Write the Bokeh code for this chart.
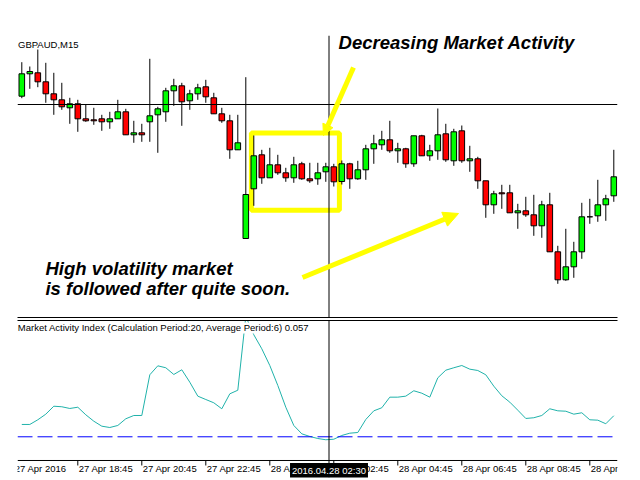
import numpy as np
import pandas as pd
from bokeh.plotting import figure
from bokeh.layouts import column, row
from bokeh.models import (Range1d, LinearAxis, FixedTicker, Span, Label, LabelSet,
                          ColumnDataSource, BoxAnnotation, Arrow, NormalHead, Spacer,
                          CustomJSTickFormatter)
from bokeh.core.properties import value
from bokeh.embed import file_html
from bokeh.resources import INLINE

# ---------------- data ----------------
symbol = "GBPAUD,M15"
start_time = "2016-04-27 17:00"

opens = [1.92043, 1.92267, 1.92277, 1.92187, 1.92067, 1.92007, 1.91927, 1.91967, 1.91817, 1.91807,
         1.91817, 1.91787, 1.91817, 1.91887, 1.91657, 1.91677, 1.91787, 1.91857, 1.91887, 1.92097,
         1.92147, 1.91997, 1.92067, 1.92137, 1.92027, 1.91867, 1.91797, 1.91507, 1.90620, 1.91117,
         1.91457, 1.91227, 1.91357, 1.91277, 1.91227, 1.91367, 1.91217, 1.91217, 1.91287, 1.91337,
         1.91190, 1.91367, 1.91217, 1.91307, 1.91517, 1.91557, 1.91607, 1.91497, 1.91517, 1.91367,
         1.91647, 1.91447, 1.91497, 1.91667, 1.91397, 1.91697, 1.91397, 1.91417, 1.91197, 1.90957,
         1.91077, 1.91077, 1.90877, 1.90897, 1.90857, 1.90747, 1.90957, 1.90487, 1.90207, 1.90337,
         1.90487, 1.90837, 1.90847, 1.90957, 1.91047]
highs = [1.92383, 1.92340, 1.92510, 1.92377, 1.92277, 1.92177, 1.92027, 1.92007, 1.91957, 1.91927,
         1.91857, 1.91887, 1.92007, 1.91917, 1.91797, 1.91767, 1.92417, 1.91937, 1.92127, 1.92217,
         1.92177, 1.92107, 1.92167, 1.92207, 1.92077, 1.91927, 1.91857, 1.91857, 1.92233, 1.91650,
         1.91507, 1.91527, 1.91457, 1.91327, 1.91437, 1.91387, 1.91377, 1.91377, 1.91377, 1.91367,
         1.91400, 1.91377, 1.91397, 1.91557, 1.91657, 1.91697, 1.91797, 1.91577, 1.91527, 1.91647,
         1.91657, 1.91557, 1.91920, 1.91767, 1.91717, 1.91750, 1.91547, 1.91437, 1.91197, 1.91097,
         1.91157, 1.91157, 1.90967, 1.91037, 1.91057, 1.90997, 1.91077, 1.90547, 1.90717, 1.90587,
         1.90977, 1.91017, 1.91207, 1.91057, 1.91507]
lows = [1.92023, 1.92117, 1.92133, 1.91977, 1.91857, 1.91907, 1.91767, 1.91687, 1.91787, 1.91757,
        1.91697, 1.91717, 1.91817, 1.91657, 1.91577, 1.91587, 1.91587, 1.91477, 1.91787, 1.91947,
        1.91747, 1.91907, 1.92007, 1.91977, 1.91867, 1.91777, 1.91417, 1.91507, 1.90620, 1.90947,
        1.91167, 1.91227, 1.91257, 1.91187, 1.91177, 1.91207, 1.91177, 1.91157, 1.91187, 1.91140,
        1.91160, 1.91117, 1.91207, 1.91207, 1.91367, 1.91507, 1.91477, 1.91377, 1.91327, 1.91337,
        1.91447, 1.91397, 1.91407, 1.91387, 1.91347, 1.91377, 1.91287, 1.91117, 1.90827, 1.90867,
        1.90917, 1.90877, 1.90717, 1.90837, 1.90647, 1.90627, 1.90487, 1.90167, 1.90197, 1.90227,
        1.90417, 1.90767, 1.90787, 1.90797, 1.90987]
closes = [1.92267, 1.92290, 1.92187, 1.92067, 1.92007, 1.91937, 1.91967, 1.91817, 1.91797, 1.91797,
          1.91787, 1.91817, 1.91887, 1.91657, 1.91677, 1.91657, 1.91847, 1.91917, 1.92097, 1.92147,
          1.91987, 1.92067, 1.92127, 1.92037, 1.91867, 1.91797, 1.91507, 1.91577, 1.91060, 1.91447,
          1.91227, 1.91357, 1.91277, 1.91227, 1.91357, 1.91217, 1.91197, 1.91277, 1.91337, 1.91187,
          1.91367, 1.91217, 1.91307, 1.91517, 1.91567, 1.91607, 1.91497, 1.91517, 1.91367, 1.91647,
          1.91447, 1.91497, 1.91657, 1.91407, 1.91687, 1.91397, 1.91417, 1.91197, 1.90957, 1.91067,
          1.91067, 1.90877, 1.90897, 1.90857, 1.90747, 1.90957, 1.90487, 1.90207, 1.90337, 1.90487,
          1.90837, 1.90837, 1.90957, 1.91017, 1.91237]

# Market Activity Index values
mai = [0.0458, 0.0458, 0.0518, 0.0590, 0.0692, 0.0685, 0.0663, 0.0679, 0.0582, 0.0500,
       0.0436, 0.0419, 0.0445, 0.0531, 0.0573, 0.0573, 0.1095, 0.1210, 0.1185, 0.1099,
       0.1159, 0.1000, 0.0821, 0.0778, 0.0736, 0.0659, 0.0851, 0.0897, 0.1842, 0.1608,
       0.1428, 0.1214, 0.0958, 0.0679, 0.0445, 0.0338, 0.0304, 0.0278, 0.0262, 0.0269,
       0.0317, 0.0346, 0.0355, 0.0522, 0.0633, 0.0672, 0.0808, 0.0808, 0.0821, 0.0890,
       0.0859, 0.0808, 0.1056, 0.1154, 0.1185, 0.1214, 0.1167, 0.1150, 0.1095, 0.0949,
       0.0826, 0.0744, 0.0641, 0.0535, 0.0544, 0.0573, 0.0659, 0.0633, 0.0628, 0.0590,
       0.0608, 0.0518, 0.0513, 0.0467, 0.0570]
mai_level = 0.03
mai_title = "Market Activity Index (Calculation Period:20, Average Period:6) 0.057"

tick_times = ["2016-04-27 16:45", "2016-04-27 18:45", "2016-04-27 20:45", "2016-04-27 22:45",
              "2016-04-28 00:45", "2016-04-28 02:45", "2016-04-28 04:45", "2016-04-28 06:45",
              "2016-04-28 08:45", "2016-04-28 10:45"]
tick_labels = ["27 Apr 2016", "27 Apr 18:45", "27 Apr 20:45", "27 Apr 22:45", "28 Apr 00:45",
               "28 Apr 02:45", "28 Apr 04:45", "28 Apr 06:45", "28 Apr 08:45", "28 Apr 10:45"]

cursor_time = "2016-04-28 02:36"
cursor_label = "2016.04.28 02:30"
cursor_price = 1.91960

note_top = "Decreasing Market Activity"
note_bottom = ["High volatility market", "is followed after quite soon."]

# ---------------- derived ----------------
bar = pd.Timedelta("15min")
times = pd.date_range(start_time, periods=len(opens), freq="15min")
t0 = times[0]
def pos(t):
    return (pd.Timestamp(t) - t0) / bar

x = np.arange(len(opens), dtype=float)
tick_pos = [pos(t) for t in tick_times]
cursor_x = pos(cursor_time)

o = np.array(opens); c = np.array(closes)
src = ColumnDataSource(dict(
    x=x, high=highs, low=lows,
    top=np.maximum(o, c), bottom=np.minimum(o, c),
    color=["#00FF00" if cc >= oo else "#FF0000" for oo, cc in zip(o, c)],
))

FONT = "Liberation Sans"
YEL = "#FFFF00"
W = 623
xr = Range1d(-0.5375, 74.4625)

def border_axis():
    return LinearAxis(ticker=FixedTicker(ticks=[]), major_tick_in=0, major_tick_out=0,
                      minor_tick_in=0, minor_tick_out=0, major_label_text_font_size="0px",
                      major_label_standoff=0, axis_line_color="black", axis_line_width=1,
                      formatter=CustomJSTickFormatter(code="return ''"))

# ---------------- price panel ----------------
top = figure(width=W, height=318, x_range=xr, y_range=Range1d(1.8983, 1.9265),
             x_axis_location=None, y_axis_location=None, output_backend="svg",
             toolbar_location=None, min_border_left=0, min_border_right=23,
             min_border_top=35, min_border_bottom=1)
top.grid.visible = False
top.outline_line_color = None
top.add_layout(border_axis(), "below")

top.add_layout(BoxAnnotation(left=28.7, right=39.7, top=1.91675, bottom=1.90903,
                             fill_alpha=0, line_color=YEL, line_alpha=1, line_width=5,
                             level="underlay"))

top.segment(x0="x", y0="high", x1="x", y1="low", source=src, line_color="black", line_width=1)
top.vbar(x="x", width=0.7, top="top", bottom="bottom", source=src,
         fill_color="color", line_color="black", line_width=1)

top.add_layout(Span(location=cursor_price, dimension="width", line_color="black", line_width=1))
top.add_layout(Span(location=cursor_x, dimension="height", line_color="black", line_width=1))

top.add_layout(Arrow(end=NormalHead(size=11, fill_color=YEL, line_color=YEL),
                     x_start=41.46, y_start=1.9233, x_end=37.71, y_end=1.9165,
                     line_color=YEL, line_width=5))
top.add_layout(Arrow(end=NormalHead(size=15, fill_color=YEL, line_color=YEL),
                     x_start=35.09, y_start=1.9023, x_end=54.59, y_end=1.9087,
                     line_color=YEL, line_width=5))

top.add_layout(Label(x=-0.475, y=1.92562, text=symbol, text_font=FONT, text_font_size="9.5px",
                     text_baseline="middle", text_align="left", text_color="black"))
top.add_layout(Label(x=39.59, y=1.9258, text=note_top, text_font=FONT, text_font_size="18.5px",
                     text_font_style="bold italic", text_baseline="middle", text_align="left",
                     text_color="black"))
for txt, yy in zip(note_bottom, [1.9032, 1.9012]):
    top.add_layout(Label(x=2.96, y=yy, text=txt, text_font=FONT, text_font_size="18.5px",
                         text_font_style="bold italic", text_baseline="middle",
                         text_align="left", text_color="black"))

# ---------------- indicator panel ----------------
axis_floor = -0.0004      # indicator value at the time-scale line
tick_end = -0.0068
label_y = -0.0112
cursor_y = -0.0132
bot = figure(width=W, height=162, x_range=xr, y_range=Range1d(-0.0222, 0.1791),
             x_axis_location=None, y_axis_location=None, output_backend="svg",
             toolbar_location=None, min_border_left=0, min_border_right=23,
             min_border_top=2, min_border_bottom=3)
bot.grid.visible = False
bot.outline_line_color = None
bot.add_layout(border_axis(), "above")

bot.add_layout(Span(location=mai_level, dimension="width", line_color="#0000FF",
                    line_width=1, line_dash="15 5"))
bot.line(x=x, y=mai, line_color="#20B2AA", line_width=1)

# time scale
bot.add_layout(Span(location=axis_floor, dimension="width", line_color="black", line_width=1))
bot.segment(x0=tick_pos, y0=axis_floor, x1=tick_pos, y1=tick_end, line_color="black", line_width=1)
tick_src = ColumnDataSource(dict(x=tick_pos, text=tick_labels))
bot.add_layout(LabelSet(x="x", y=label_y, text="text", source=tick_src, x_offset=1,
                        text_font=value(FONT), text_font_size="9.5px", text_align="left",
                        text_baseline="middle", text_color="black"))

bot.add_layout(Span(location=cursor_x, dimension="height", line_color="black", line_width=1))
bot.add_layout(Label(x=-0.5, y=0.1695, text=mai_title, text_font=FONT, text_font_size="9.5px",
                     text_baseline="middle", text_align="left", text_color="black",
                     background_fill_color="white"))
bot.add_layout(Label(x=cursor_x, y=cursor_y, text=cursor_label, text_font=FONT,
                     text_font_size="9.5px", text_align="center", text_baseline="middle",
                     text_color="white", background_fill_color="black", padding=2))

layout = row(Spacer(width=17, height=10), column(top, bot, spacing=0), spacing=0)

open("out.html", "w").write(file_html(layout, INLINE))
